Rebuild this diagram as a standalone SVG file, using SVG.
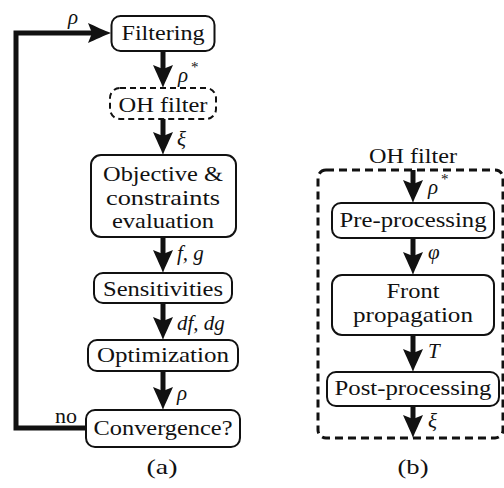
<svg xmlns="http://www.w3.org/2000/svg" width="504" height="488" viewBox="0 0 504 488" font-family="Liberation Serif, Times New Roman, serif">
<g id="connectors" fill="none" stroke="#111" stroke-width="5">
<path d="M163,51 V74"/>
<path d="M163,119 V141"/>
<path d="M163,237 V259"/>
<path d="M163,303 V326"/>
<path d="M163,371 V396"/>
<path d="M86,428 H16 V33 H97" stroke-linejoin="miter"/>
<path d="M413,170 V189"/>
<path d="M413,238 V261"/>
<path d="M413,335 V358"/>
<path d="M413,406 V424"/>
</g>
<g id="arrowheads" fill="#111">
<path transform="translate(163,88)" d="M0,0 C-2,-6 -7,-16 -10,-23 L0,-19 L10,-23 C7,-16 2,-6 0,0 Z"/>
<path transform="translate(163,155)" d="M0,0 C-2,-6 -7,-16 -10,-23 L0,-19 L10,-23 C7,-16 2,-6 0,0 Z"/>
<path transform="translate(163,273)" d="M0,0 C-2,-6 -7,-16 -10,-23 L0,-19 L10,-23 C7,-16 2,-6 0,0 Z"/>
<path transform="translate(163,340)" d="M0,0 C-2,-6 -7,-16 -10,-23 L0,-19 L10,-23 C7,-16 2,-6 0,0 Z"/>
<path transform="translate(163,410)" d="M0,0 C-2,-6 -7,-16 -10,-23 L0,-19 L10,-23 C7,-16 2,-6 0,0 Z"/>
<path transform="translate(111,33) rotate(-90)" d="M0,0 C-2,-6 -7,-16 -10,-23 L0,-19 L10,-23 C7,-16 2,-6 0,0 Z"/>
<path transform="translate(413,203)" d="M0,0 C-2,-6 -7,-16 -10,-23 L0,-19 L10,-23 C7,-16 2,-6 0,0 Z"/>
<path transform="translate(413,275)" d="M0,0 C-2,-6 -7,-16 -10,-23 L0,-19 L10,-23 C7,-16 2,-6 0,0 Z"/>
<path transform="translate(413,372)" d="M0,0 C-2,-6 -7,-16 -10,-23 L0,-19 L10,-23 C7,-16 2,-6 0,0 Z"/>
<path transform="translate(413,438)" d="M0,0 C-2,-6 -7,-16 -10,-23 L0,-19 L10,-23 C7,-16 2,-6 0,0 Z"/>
</g>
<g id="labels" font-family="Liberation Serif, Times New Roman, serif" fill="#111">
<text x="68" y="24" font-size="21" font-style="italic">ρ</text>
<text x="178" y="82" font-size="21" font-style="italic">ρ</text>
<text x="191" y="72" font-size="15">*</text>
<text x="177" y="146" font-size="21" font-style="italic">ξ</text>
<text x="177" y="260" font-size="21" font-style="italic">f, g</text>
<text x="177" y="330" font-size="21" font-style="italic">df, dg</text>
<text x="177" y="400" font-size="21" font-style="italic">ρ</text>
<text x="66" y="423" font-size="22" text-anchor="middle" textLength="22" lengthAdjust="spacingAndGlyphs">no</text>
<text x="428" y="194" font-size="21" font-style="italic">ρ</text>
<text x="441" y="184" font-size="15">*</text>
<text x="428" y="259" font-size="21" font-style="italic">φ</text>
<text x="428" y="358" font-size="21" font-style="italic">T</text>
<text x="428" y="428" font-size="21" font-style="italic">ξ</text>
</g>
<g font-family="Liberation Serif, Times New Roman, serif" font-size="22" text-anchor="middle">
<g id="filtering"><rect x="111.5" y="16" width="103" height="35" rx="9" fill="#fff" stroke="#111" stroke-width="2"/><text x="163" y="40" fill="#111" textLength="83" lengthAdjust="spacingAndGlyphs">Filtering</text></g>
<g id="ohfilter"><rect x="110" y="88" width="106" height="31" rx="10" fill="#fff" stroke="#111" stroke-width="2" stroke-dasharray="6 4"/><text x="163" y="112" fill="#111" textLength="89" lengthAdjust="spacingAndGlyphs">OH filter</text></g>
<g id="objective"><rect x="91" y="155" width="145" height="82" rx="10" fill="#fff" stroke="#111" stroke-width="2"/>
<text x="163" y="181" fill="#111" textLength="120" lengthAdjust="spacingAndGlyphs">Objective &amp;</text>
<text x="163" y="205" fill="#111" textLength="114" lengthAdjust="spacingAndGlyphs">constraints</text>
<text x="163" y="228" fill="#111" textLength="102" lengthAdjust="spacingAndGlyphs">evaluation</text></g>
<g id="sensitivities"><rect x="94" y="273" width="138" height="30" rx="9" fill="#fff" stroke="#111" stroke-width="2"/><text x="163" y="296" fill="#111" textLength="120" lengthAdjust="spacingAndGlyphs">Sensitivities</text></g>
<g id="optimization"><rect x="88" y="340" width="150" height="31" rx="9" fill="#fff" stroke="#111" stroke-width="2"/><text x="163" y="362" fill="#111" textLength="132" lengthAdjust="spacingAndGlyphs">Optimization</text></g>
<g id="convergence"><rect x="86" y="410" width="154" height="37" rx="9" fill="#fff" stroke="#111" stroke-width="2"/><text x="163" y="435" fill="#111" textLength="139" lengthAdjust="spacingAndGlyphs">Convergence?</text></g>
<text x="162" y="474" fill="#111" textLength="31" lengthAdjust="spacingAndGlyphs">(a)</text>
<g id="ohframe"><rect x="318" y="170" width="185" height="268" rx="8" fill="none" stroke="#111" stroke-width="3" stroke-dasharray="8 5"/>
<text x="413" y="163" fill="#111" textLength="88" lengthAdjust="spacingAndGlyphs">OH filter</text></g>
<g id="preprocessing"><rect x="332" y="203" width="162" height="35" rx="9" fill="#fff" stroke="#111" stroke-width="2"/><text x="413" y="227" fill="#111" textLength="147" lengthAdjust="spacingAndGlyphs">Pre-processing</text></g>
<g id="front"><rect x="332" y="275" width="162" height="60" rx="10" fill="#fff" stroke="#111" stroke-width="2"/>
<text x="413" y="298" fill="#111" textLength="53" lengthAdjust="spacingAndGlyphs">Front</text>
<text x="413" y="322" fill="#111" textLength="120" lengthAdjust="spacingAndGlyphs">propagation</text></g>
<g id="postprocessing"><rect x="327" y="372" width="172" height="34" rx="9" fill="#fff" stroke="#111" stroke-width="2"/><text x="413" y="395" fill="#111" textLength="157" lengthAdjust="spacingAndGlyphs">Post-processing</text></g>
<text x="413" y="474" fill="#111" textLength="31" lengthAdjust="spacingAndGlyphs">(b)</text>
</g>
</svg>
